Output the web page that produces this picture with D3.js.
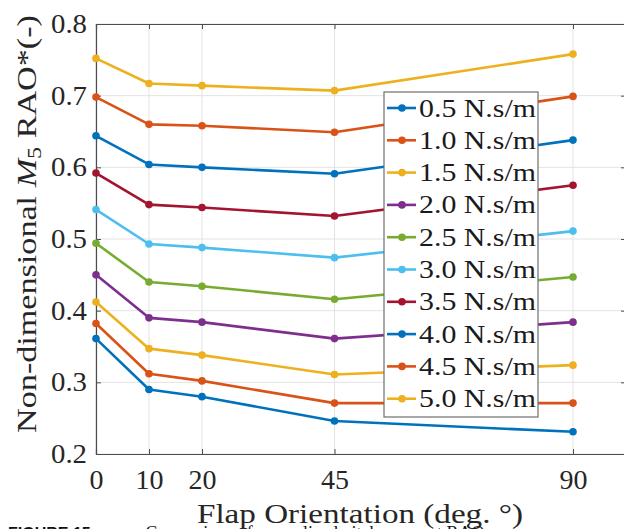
<!DOCTYPE html>
<html>
<head>
<meta charset="utf-8">
<script src="https://cdn.jsdelivr.net/npm/d3@7"></script>
<style>
  html, body { margin: 0; padding: 0; background: #fff; overflow: hidden; }
  svg { display: block; }
</style>
</head>
<body>
<svg id="chart" width="624" height="529"></svg>
<script>
// Flap orientation angles (deg) and tick values
const angles = [0, 10, 20, 45, 90];
const xTicks = [0, 10, 20, 45, 90];
const yTicks = [0.2, 0.3, 0.4, 0.5, 0.6, 0.7, 0.8];

// Damping coefficients (legend labels)
const dampingLabels = ["0.5 N.s/m", "1.0 N.s/m", "1.5 N.s/m", "2.0 N.s/m", "2.5 N.s/m",
                       "3.0 N.s/m", "3.5 N.s/m", "4.0 N.s/m", "4.5 N.s/m", "5.0 N.s/m"];

// Non-dimensional M5 RAO for each damping value, one entry per angle
const rao05 = [0.361, 0.290, 0.280, 0.246, 0.231];
const rao10 = [0.382, 0.312, 0.302, 0.271, 0.271];
const rao15 = [0.412, 0.347, 0.338, 0.311, 0.324];
const rao20 = [0.450, 0.390, 0.384, 0.361, 0.384];
const rao25 = [0.494, 0.440, 0.434, 0.416, 0.447];
const rao30 = [0.541, 0.493, 0.488, 0.474, 0.511];
const rao35 = [0.592, 0.548, 0.544, 0.532, 0.575];
const rao40 = [0.644, 0.604, 0.600, 0.591, 0.638];
const rao45 = [0.698, 0.660, 0.658, 0.649, 0.699];
const rao50 = [0.752, 0.717, 0.714, 0.707, 0.758];
const seriesValues = [rao05, rao10, rao15, rao20, rao25, rao30, rao35, rao40, rao45, rao50];

// MATLAB default colour order
const palette = ["#0072BD", "#D95319", "#EDB120", "#7E2F8E", "#77AC30", "#4DBEEE", "#A2142F"];

const svg = d3.select("#chart");
const serif = "'Liberation Serif', 'DejaVu Serif', serif";

const plot = { left: 96, right: 626, top: 24, bottom: 454 };
const x = d3.scaleLinear().domain([0, 100]).range([plot.left, plot.right]);
const y = d3.scaleLinear().domain([0.2, 0.8]).range([plot.bottom, plot.top]);

const axisColor = "#4d4d4d";
const gridColor = "#e3e3e3";
const tickLen = 5;

// Widen serif text to the width of a TeX-style face
function stretch(sel, width) {
  sel.attr("textLength", width).attr("lengthAdjust", "spacingAndGlyphs");
}
function tickWidth(s) {
  let w = 0;
  for (const ch of s) w += ch === "." ? 8 : 14;
  return w;
}

// Grid lines
const grid = svg.append("g");
grid.selectAll("line.gx").data(xTicks).join("line")
  .attr("x1", d => x(d)).attr("x2", d => x(d))
  .attr("y1", plot.top).attr("y2", plot.bottom)
  .attr("stroke", gridColor).attr("stroke-width", 1);
grid.selectAll("line.gy").data(yTicks).join("line")
  .attr("x1", plot.left).attr("x2", plot.right)
  .attr("y1", d => y(d)).attr("y2", d => y(d))
  .attr("stroke", gridColor).attr("stroke-width", 1);

// Axes (inward ticks, boxed)
const xAxisBottom = d3.axisBottom(x).tickValues(xTicks).tickSize(-tickLen).tickPadding(16).tickFormat(d3.format("d"));
const xAxisTop = d3.axisTop(x).tickValues(xTicks).tickSize(-tickLen).tickFormat("");
const yAxisLeft = d3.axisLeft(y).tickValues(yTicks).tickSize(-tickLen).tickPadding(9).tickFormat(d3.format(".1f"));
const yAxisRight = d3.axisRight(y).tickValues(yTicks).tickSize(-tickLen).tickFormat("");

function styleAxis(g) {
  g.select(".domain").attr("stroke", axisColor).attr("stroke-width", 1.2);
  g.selectAll(".tick line").attr("stroke", axisColor).attr("stroke-width", 1);
  g.selectAll(".tick text").attr("fill", "#262626").attr("font-family", serif).attr("font-size", 27)
    .each(function () {
      const s = d3.select(this).text();
      if (s) stretch(d3.select(this), tickWidth(s));
    });
}
svg.append("g").attr("transform", `translate(0,${plot.bottom})`).call(xAxisBottom).call(styleAxis);
svg.append("g").attr("transform", `translate(0,${plot.top})`).call(xAxisTop).call(styleAxis);
svg.append("g").attr("transform", `translate(${plot.left},0)`).call(yAxisLeft).call(styleAxis);
svg.append("g").attr("transform", `translate(${plot.right},0)`).call(yAxisRight).call(styleAxis);

// Series lines and markers
const line = d3.line().x((d, i) => x(angles[i])).y(d => y(d));
const series = svg.append("g");
seriesValues.forEach((vals, k) => {
  const c = palette[k % palette.length];
  const g = series.append("g");
  g.append("path").datum(vals).attr("d", line)
    .attr("fill", "none").attr("stroke", c).attr("stroke-width", 2.6)
    .attr("stroke-linejoin", "round");
  g.selectAll("circle").data(vals).join("circle")
    .attr("cx", (d, i) => x(angles[i])).attr("cy", d => y(d))
    .attr("r", 3.8).attr("fill", c);
});

// Legend
const legend = svg.append("g");
const lg = { x: 384, y: 92, w: 154, h: 325, row: 32.3, first: 108 };
legend.append("rect")
  .attr("x", lg.x).attr("y", lg.y).attr("width", lg.w).attr("height", lg.h)
  .attr("fill", "#fff").attr("stroke", "#6e6e6e").attr("stroke-width", 1.2);
dampingLabels.forEach((lab, k) => {
  const c = palette[k % palette.length];
  const cy = lg.first + k * lg.row;
  legend.append("line").attr("x1", lg.x + 3).attr("x2", lg.x + 32)
    .attr("y1", cy).attr("y2", cy).attr("stroke", c).attr("stroke-width", 2.6);
  legend.append("circle").attr("cx", lg.x + 18).attr("cy", cy).attr("r", 3.8).attr("fill", c);
  legend.append("text").attr("x", lg.x + 35).attr("y", cy + 8.5)
    .attr("font-family", serif).attr("font-size", 25).attr("fill", "#1a1a1a")
    .text(lab).call(stretch, 117);
});

// Axis titles
svg.append("text")
  .attr("x", 360).attr("y", 523)
  .attr("text-anchor", "middle").attr("font-family", serif).attr("font-size", 27).attr("fill", "#262626")
  .text("Flap Orientation (deg. °)").call(stretch, 326);

const yl = svg.append("text")
  .attr("text-anchor", "middle").attr("font-family", serif).attr("font-size", 27).attr("fill", "#262626");
yl.append("tspan").text("Non-dimensional ");
yl.append("tspan").attr("font-style", "italic").text("M");
yl.append("tspan").attr("font-size", 19).attr("dy", 5).text("5");
yl.append("tspan").attr("dy", -5).text(" RAO*(-)");
{
  const natural = yl.node().getComputedTextLength();
  const sx = 418 / natural;
  yl.attr("transform", `translate(36,224) rotate(-90) scale(${sx},1)`);
}

// Figure caption (runs past the lower edge)
const cap = svg.append("text").attr("x", 8).attr("y", 539).attr("fill", "#111");
cap.append("tspan").attr("font-family", "'Liberation Sans', Arial, sans-serif")
  .attr("font-weight", "bold").attr("font-size", 16).text("FIGURE 15.");
cap.append("tspan").attr("font-family", serif).attr("font-size", 18).attr("dx", 50)
  .text("Comparison of normalized pitch moment RAO");
</script>
</body>
</html>
